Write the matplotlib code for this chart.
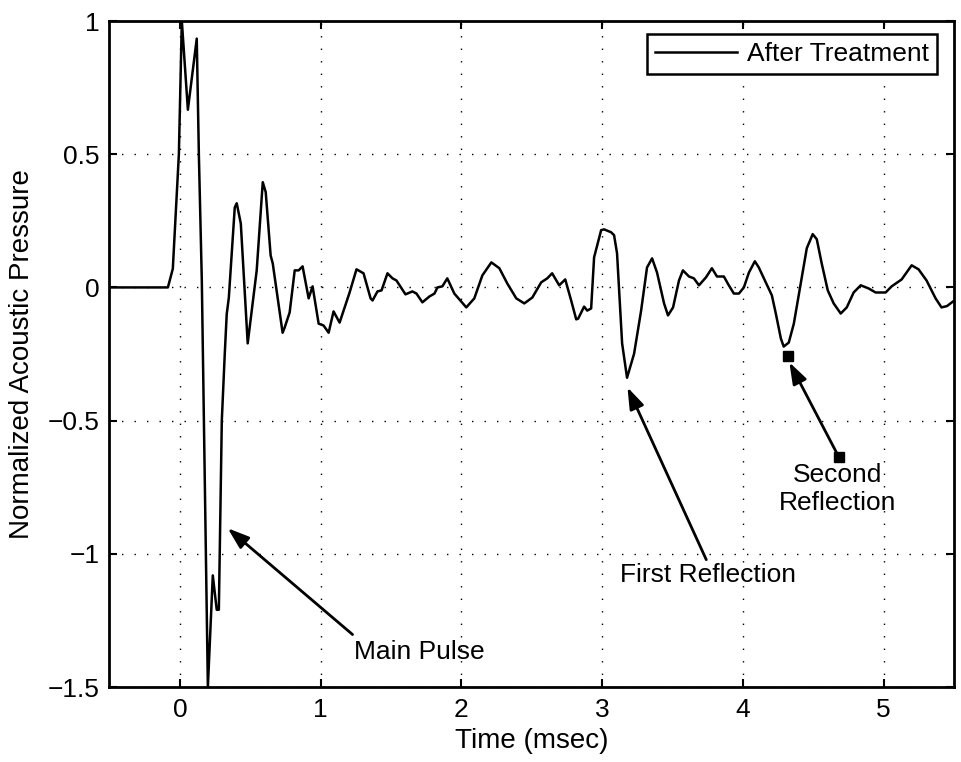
import numpy as np
import matplotlib.pyplot as plt

plt.rcParams['font.family'] = ['Liberation Sans', 'DejaVu Sans']

# Pressure trace (time in msec, normalized pressure)
t = [-0.5, -0.085, -0.05, -0.007, 0.014, 0.057, 0.12, 0.135, 0.156, 0.199,
     0.234, 0.262, 0.277, 0.298, 0.319, 0.333, 0.348, 0.39, 0.404, 0.433,
     0.482, 0.546, 0.589, 0.61, 0.645, 0.66, 0.73, 0.745, 0.78, 0.816,
     0.844, 0.872, 0.915, 0.943, 0.986, 1.021, 1.057, 1.092, 1.135, 1.206,
     1.255, 1.305, 1.355, 1.369, 1.404, 1.433, 1.475, 1.511, 1.539, 1.603,
     1.652, 1.681, 1.723, 1.773, 1.809, 1.83, 1.865, 1.90, 1.95, 2.035,
     2.092, 2.149, 2.213, 2.27, 2.326, 2.39, 2.447, 2.504, 2.567, 2.61,
     2.645, 2.695, 2.738, 2.78, 2.816, 2.83, 2.872, 2.894, 2.922, 2.943,
     2.993, 3.014, 3.064, 3.085, 3.106, 3.142, 3.177, 3.227, 3.277, 3.319,
     3.355, 3.39, 3.44, 3.468, 3.504, 3.546, 3.574, 3.617, 3.652, 3.688,
     3.738, 3.78, 3.816, 3.865, 3.90, 3.936, 3.972, 4.007, 4.043, 4.085,
     4.113, 4.163, 4.206, 4.234, 4.27, 4.29, 4.326, 4.362, 4.411, 4.454,
     4.496, 4.525, 4.56, 4.603, 4.645, 4.695, 4.738, 4.787, 4.837, 4.894,
     4.943, 5.014, 5.057, 5.128, 5.199, 5.248, 5.305, 5.369, 5.411, 5.45,
     5.5]
p = [0.0, 0.0, 0.07, 0.5, 1.0, 0.667, 0.934, 0.5, 0.026, -1.5,
     -1.081, -1.21, -1.21, -0.5, -0.25, -0.1, -0.038, 0.30, 0.316, 0.24,
     -0.21, 0.064, 0.395, 0.358, 0.12, 0.09, -0.17, -0.15, -0.094, 0.064,
     0.064, 0.079, -0.041, 0.004, -0.136, -0.143, -0.17, -0.09, -0.132, -0.019,
     0.068, 0.053, -0.041, -0.049, -0.015, -0.011, 0.053, 0.034, 0.026, -0.026,
     -0.015, -0.023, -0.056, -0.034, -0.023, 0.0, 0.004, 0.034, -0.023, -0.075,
     -0.041, 0.045, 0.094, 0.072, 0.015, -0.041, -0.06, -0.038, 0.019, 0.034,
     0.053, 0.008, 0.03, -0.049, -0.12, -0.117, -0.072, -0.087, -0.079, 0.113,
     0.215, 0.218, 0.207, 0.196, 0.128, -0.21, -0.339, -0.249, -0.087, 0.075,
     0.109, 0.056, -0.06, -0.105, -0.075, 0.026, 0.064, 0.041, 0.034, 0.008,
     0.038, 0.072, 0.041, 0.041, 0.008, -0.023, -0.023, 0.0, 0.056, 0.098,
     0.075, 0.019, -0.03, -0.098, -0.192, -0.222, -0.207, -0.136, 0.015, 0.147,
     0.2, 0.181, 0.09, -0.011, -0.06, -0.098, -0.075, -0.019, 0.008, -0.004,
     -0.019, -0.019, 0.004, 0.03, 0.083, 0.068, 0.026, -0.041, -0.075, -0.07,
     -0.05]

xticks = [0, 1, 2, 3, 4, 5]
yticks = [-1.5, -1, -0.5, 0, 0.5, 1]
ytick_labels = ['\u22121.5', '\u22121', '\u22120.5', '0', '0.5', '1']

FS = 19

fig = plt.figure(figsize=(9.62, 7.62), dpi=100)
ax = fig.add_axes([0.1138, 0.0984, 0.8779, 0.874])

ax.plot(t, p, color='black', lw=1.8, label='After Treatment',
        solid_joinstyle='round')

ax.set_xlim(-0.5, 5.5)
ax.set_ylim(-1.5, 1)
ax.set_xticks(xticks)
ax.set_yticks(yticks)
ax.set_yticklabels(ytick_labels)
ax.grid(True, color='black', linestyle=(0, (1, 8)), linewidth=1.0)
ax.tick_params(direction='in', length=6, width=1.5, top=True, right=True,
               labelsize=FS)
ax.tick_params(axis='x', pad=8)
ax.tick_params(axis='y', pad=7)
for s in ax.spines.values():
    s.set_linewidth(2.0)

ax.set_xlabel('Time (msec)', fontsize=FS + 1, labelpad=4)
ax.set_ylabel('Normalized Acoustic Pressure', fontsize=FS + 1, labelpad=9)

leg = ax.legend(loc='upper right', bbox_to_anchor=(937 / 962, 1 - 34 / 762),
                bbox_transform=fig.transFigure, borderaxespad=0,
                fontsize=FS, fancybox=False, edgecolor='black', framealpha=1,
                handlelength=3.1, handletextpad=0.4, borderpad=0.3)
leg.get_frame().set_linewidth(1.8)

arrow = dict(arrowstyle='-|>,head_length=1.3,head_width=0.45',
             color='black', lw=2.0, shrinkA=0, shrinkB=0)

# Main pulse
ax.annotate('', xy=(0.34, -0.904), xytext=(1.227, -1.303), arrowprops=arrow)
ax.text(1.24, -1.37, 'Main Pulse', fontsize=FS, ha='left', va='center')

# First reflection
ax.annotate('', xy=(3.18, -0.375), xytext=(3.74, -1.022), arrowprops=arrow)
ax.text(3.755, -1.08, 'First Reflection', fontsize=FS, ha='center', va='center')

# Second reflection
ax.annotate('', xy=(4.33, -0.281), xytext=(4.681, -0.636), arrowprops=arrow)
ax.plot([4.319, 4.681], [-0.256, -0.636], 's', color='black', ms=7)
ax.text(4.674, -0.757, 'Second\nReflection', fontsize=FS, ha='center',
        va='center', linespacing=1.25)

fig.savefig('out.png', dpi=100)
